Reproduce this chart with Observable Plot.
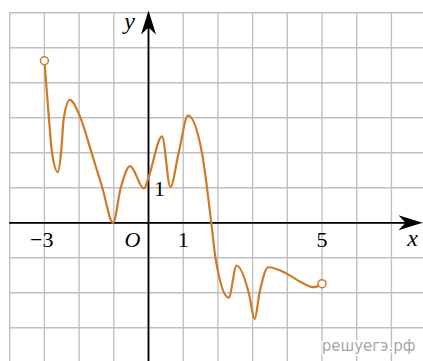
<!DOCTYPE html>
<html>
<head>
<meta charset="utf-8">
<script src="https://cdn.jsdelivr.net/npm/d3@7"></script>
<script src="https://cdn.jsdelivr.net/npm/@observablehq/plot@0.6"></script>
<style>
  html, body { margin: 0; padding: 0; background: #fff; }
</style>
</head>
<body>
<div id="chart"></div>
<script>
// ---- data ----
const curveX = [-3, -2.87, -2.78, -2.61, -2.52, -2.44, -2.27, -1.96, -1.64, -1.33, -1.02, -0.8, -0.53, -0.13, 0, 0.39, 0.63, 0.87, 1.14, 1.54, 1.81, 1.93, 2.31, 2.54, 2.89, 3.06, 3.2, 3.45, 4, 4.4, 4.76, 5];
const curveY = [4.63, 3, 2, 1.45, 2, 3, 3.51, 3, 2, 1, 0, 1, 1.62, 0.98, 1.29, 2.47, 1.02, 2, 3.06, 2, 0, -1, -2.14, -1.22, -2, -2.75, -2, -1.27, -1.46, -1.70, -1.84, -1.74];
const openX = [-3, 5];
const openY = [4.63, -1.74];
const gridX = [-4, -3, -2, -1, 0, 1, 2, 3, 4, 5, 6, 7];
const gridY = [-4, -3, -2, -1, 0, 1, 2, 3, 4, 5, 6];
const xTicksNeg = [-3];
const xTickLabelsNeg = ["−3"];
const xTicksPos = [1, 5];
const xTickLabelsPos = ["1", "5"];
const yTicks = [1];
const yTickLabels = ["1"];

const unitX = 34.7, unitY = 35, originX = 148, originY = 222.3;
const W = 423, H = 361;
const xTip = (422 - originX) / unitX;
const yTip = (originY - 10) / unitY;

const curve = curveX.map((x, i) => ({x, y: curveY[i]}));
const opens = openX.map((x, i) => ({x, y: openY[i]}));

const orange = "#cf7a24";
const serif = "'Liberation Serif', 'DejaVu Serif', serif";

const arrowHead = {
  draw(ctx) {
    ctx.moveTo(0, 0);
    ctx.lineTo(7.5, 24);
    ctx.lineTo(0, 17);
    ctx.lineTo(-7.5, 24);
    ctx.closePath();
  }
};

const chart = Plot.plot({
  width: W,
  height: H,
  margin: 0,
  x: {domain: [-originX / unitX, (W - originX) / unitX], axis: null},
  y: {domain: [(originY - H) / unitY, originY / unitY], axis: null},
  style: {background: "#fff"},
  marks: [
    Plot.ruleX(gridX, {x: d => d, y1: -4.5, y2: 6, stroke: "#c0c0c0", strokeWidth: 1.4}),
    Plot.ruleY(gridY, {y: d => d, x1: -4, x2: 8.5, stroke: "#c0c0c0", strokeWidth: 1.4}),
    Plot.ruleY([0], {x1: -4, x2: xTip - 0.3, stroke: "#000", strokeWidth: 1.8}),
    Plot.ruleX([0], {y1: -4.5, y2: yTip - 0.3, stroke: "#000", strokeWidth: 1.8}),
    Plot.dot([{x: 0, y: yTip}], {x: "x", y: "y", symbol: arrowHead, fill: "#000", stroke: "none"}),
    Plot.dot([{x: xTip, y: 0}], {x: "x", y: "y", symbol: arrowHead, fill: "#000", stroke: "none", rotate: 90}),
    Plot.line(curve, {x: "x", y: "y", curve: "monotone-x", stroke: orange, strokeWidth: 2.2}),
    Plot.dot(opens, {x: "x", y: "y", r: 4, fill: "#fff", stroke: orange, strokeWidth: 1.5}),
    Plot.text(xTicksNeg, {x: d => d, y: () => 0, text: (d, i) => xTickLabelsNeg[i], textAnchor: "end", dx: 9, dy: 24, lineAnchor: "bottom", fontSize: 22, fontFamily: serif, fill: "#000"}),
    Plot.text(xTicksPos, {x: d => d, y: () => 0, text: (d, i) => xTickLabelsPos[i], textAnchor: "middle", dy: 24, lineAnchor: "bottom", fontSize: 22, fontFamily: serif, fill: "#000"}),
    Plot.text(["O"], {x: 0, y: 0, text: d => d, dx: -16, dy: 24, lineAnchor: "bottom", fontSize: 22, fontStyle: "italic", fontFamily: serif, fill: "#000"}),
    Plot.text(yTicks, {x: () => 0, y: d => d, text: (d, i) => yTickLabels[i], dx: 11, dy: 8, lineAnchor: "bottom", fontSize: 22, fontFamily: serif, fill: "#000"}),
    Plot.text(["x"], {x: xTip, y: 0, text: d => d, dx: -10, dy: 23, lineAnchor: "bottom", fontSize: 24, fontStyle: "italic", fontFamily: serif, fill: "#000"}),
    Plot.text(["y"], {x: 0, y: yTip, text: d => d, dx: -19, dy: 18, lineAnchor: "bottom", fontSize: 24, fontStyle: "italic", fontFamily: serif, fill: "#000"}),
    Plot.text(["решуегэ.рф"], {frameAnchor: "bottom-right", text: d => d, dx: -8, dy: -11, lineAnchor: "bottom", textAnchor: "end", fontSize: 15, fontFamily: "'DejaVu Sans', sans-serif", fill: "#a8a8a8", stroke: "#fff", strokeWidth: 3})
  ]
});
document.getElementById("chart").appendChild(chart);
</script>
</body>
</html>
